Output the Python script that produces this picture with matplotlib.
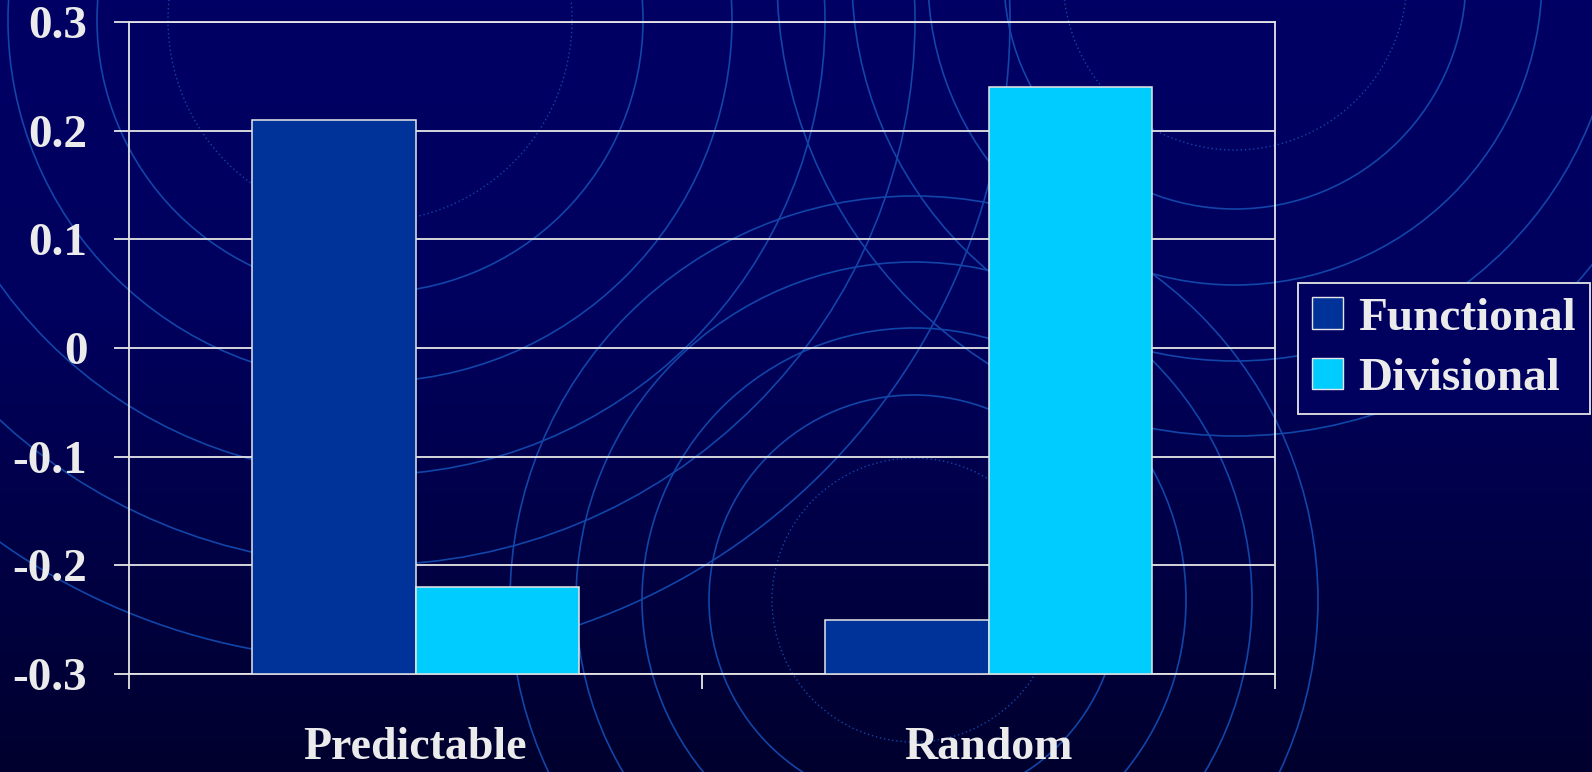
import numpy as np
import matplotlib
matplotlib.use("Agg")
import matplotlib.pyplot as plt
from matplotlib.patches import Circle, Patch
from matplotlib.colors import LinearSegmentedColormap

categories = ["Predictable", "Random"]
functional = [0.21, -0.25]
divisional = [-0.22, 0.24]
series_names = ["Functional", "Divisional"]
y_ticks = [-0.3, -0.2, -0.1, 0, 0.1, 0.2, 0.3]
y_tick_labels = ["-0.3", "-0.2", "-0.1", "0", "0.1", "0.2", "0.3"]

TEXT = "#ebebeb"
FUNC_COLOR = "#003399"
DIV_COLOR = "#00ccff"
RING = "#1245a8"

W, H = 1592, 772
fig = plt.figure(figsize=(W / 100, H / 100), dpi=100)

# slide background: vertical gradient plus concentric rings
bg = fig.add_axes([0, 0, 1, 1], zorder=0)
bg.set_xlim(0, W)
bg.set_ylim(H, 0)
bg.axis("off")
grad_cmap = LinearSegmentedColormap.from_list(
    "slide", [(0.0, "#000064"), (0.4, "#00005e"), (1.0, "#00002e")])
g = np.linspace(0, 1, 256).reshape(-1, 1)
bg.imshow(g, cmap=grad_cmap, extent=[0, W, H, 0], aspect="auto", zorder=0)

ring_sets = [
    ((370, 20), [202], [273, 362, 455, 545, 640]),
    ((1235, -22), [172], [231, 307, 383, 458]),
    ((914, 600), [142], [205, 272, 338, 404]),
]
for center, dotted, solid in ring_sets:
    for r in dotted:
        bg.add_patch(Circle(center, r, fill=False, edgecolor=RING, lw=1.0,
                            linestyle=(0, (1, 2)), zorder=1))
    for r in solid:
        bg.add_patch(Circle(center, r, fill=False, edgecolor=RING, lw=1.2, zorder=1))

# chart
ax = fig.add_axes([129 / W, 1 - 674 / H, (1275 - 129) / W, (674 - 22) / H], zorder=2)
ax.set_facecolor("none")

x = np.arange(len(categories))
width = 0.285
base = -0.3
ax.bar(x - width / 2, np.array(functional) - base, width, bottom=base,
       color=FUNC_COLOR, edgecolor="#e6e6e6", linewidth=1.1, zorder=3,
       label=series_names[0])
ax.bar(x + width / 2, np.array(divisional) - base, width, bottom=base,
       color=DIV_COLOR, edgecolor="#e6e6e6", linewidth=1.1, zorder=3,
       label=series_names[1])

ax.set_xlim(-0.5, 1.5)
ax.set_ylim(-0.3, 0.3)

ax.set_yticks(y_ticks)
ax.set_yticklabels(y_tick_labels)
ax.yaxis.grid(True, color="#e6e6e6", linewidth=1.3, zorder=1)
ax.set_axisbelow(True)

ax.set_xticks([-0.5, 0.5, 1.5])
ax.set_xticklabels([])
ax.set_xticks(x, minor=True)
ax.set_xticklabels(categories, minor=True)

ax.tick_params(axis="y", direction="out", length=11, width=1.3, color="#e6e6e6",
               pad=19, labelsize=34, labelcolor=TEXT)
ax.tick_params(axis="x", which="major", direction="out", length=11, width=1.3,
               color="#e6e6e6")
ax.tick_params(axis="x", which="minor", length=0, pad=38, labelsize=33,
               labelcolor=TEXT)
for lab in ax.get_yticklabels() + ax.get_xticklabels(minor=True):
    lab.set_fontfamily("Liberation Serif")
    lab.set_fontweight("bold")

for side in ["left", "right", "bottom", "top"]:
    ax.spines[side].set_color("#e6e6e6")
    ax.spines[side].set_linewidth(1.3)

handles = [Patch(facecolor=FUNC_COLOR, edgecolor="#e6e6e6", linewidth=1.0),
           Patch(facecolor=DIV_COLOR, edgecolor="#e6e6e6", linewidth=1.0)]
leg = fig.legend(handles, series_names, loc="upper left",
                 bbox_to_anchor=(1298 / W, 1 - 283 / H),
                 prop={"family": "Liberation Serif", "weight": "bold", "size": 34},
                 frameon=True, fancybox=False, framealpha=1,
                 facecolor="#00005f", edgecolor="#e6e6e6",
                 handlelength=0.66, handleheight=0.66, handletextpad=0.32,
                 borderpad=0.3, labelspacing=0.38, borderaxespad=0)
leg.get_frame().set_linewidth(1.3)
leg.set_zorder(5)
for t in leg.get_texts():
    t.set_color(TEXT)

fig.savefig("out.png", dpi=100)
